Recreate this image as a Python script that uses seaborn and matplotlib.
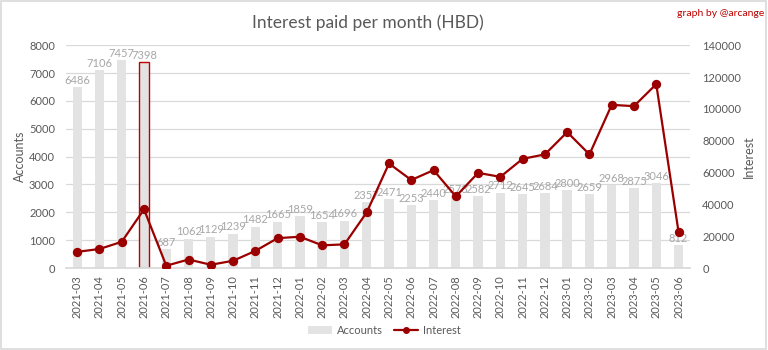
import matplotlib
matplotlib.use("Agg")
import matplotlib.pyplot as plt
from matplotlib.patches import Patch, Rectangle
from matplotlib.lines import Line2D
import seaborn as sns
import pandas as pd

months = ["2021-03", "2021-04", "2021-05", "2021-06", "2021-07", "2021-08", "2021-09",
          "2021-10", "2021-11", "2021-12", "2022-01", "2022-02", "2022-03", "2022-04",
          "2022-05", "2022-06", "2022-07", "2022-08", "2022-09", "2022-10", "2022-11",
          "2022-12", "2023-01", "2023-02", "2023-03", "2023-04", "2023-05", "2023-06"]
accounts = [6486, 7106, 7457, 7398, 687, 1062, 1129, 1239, 1482, 1665, 1859, 1654, 1696, 2357,
            2471, 2253, 2440, 2573, 2582, 2712, 2645, 2684, 2800, 2659, 2968, 2875, 3046, 812]
interest = [10200, 12000, 16500, 36900, 1500, 5400, 2100, 4600, 10800, 18800, 19700, 14300,
            14900, 35000, 65700, 55300, 61500, 45000, 59800, 57300, 68600, 71400, 85400, 71400,
            102500, 101700, 115500, 22800]
highlight = "2021-06"

df = pd.DataFrame({"month": months, "accounts": accounts, "interest": interest})

sns.set_theme(style="white")
plt.rcParams["font.family"] = ["Lato", "DejaVu Sans"]

BAR = "#e3e3e3"
LINE = "#9b0000"
TXT = "#595959"
LBL = "#a6a6a6"
GRID = "#d9d9d9"

fig = plt.figure(figsize=(7.68, 3.5), dpi=100)
ax = fig.add_axes([0.086, 0.234, 0.812, 0.637])

sns.barplot(data=df, x="month", y="accounts", color=BAR, width=0.42, ax=ax,
            saturation=1, edgecolor="none")
for patch, m in zip(ax.patches, months):
    if m == highlight:
        patch.set_edgecolor("#c00000")
        patch.set_linewidth(1.0)
ax.bar_label(ax.containers[0], labels=[str(v) for v in accounts], color=LBL,
             fontsize=8, padding=1)

ax.set_ylim(0, 8000)
ax.set_yticks(range(0, 8001, 1000))
ax.set_xlim(-0.5, len(months) - 0.5)
ax.yaxis.grid(True, color=GRID, linewidth=0.9)
ax.set_axisbelow(True)
for s in ["top", "left", "right"]:
    ax.spines[s].set_visible(False)
ax.spines["bottom"].set_color(GRID)
ax.tick_params(axis="y", colors=TXT, labelsize=8, length=0, pad=8)
ax.tick_params(axis="x", colors=TXT, labelsize=8, length=0, rotation=90, pad=5)
ax.set_xlabel("")
ax.set_ylabel("Accounts", color=TXT, fontsize=9, labelpad=2)

ax2 = ax.twinx()
sns.pointplot(data=df, x="month", y="interest", color=LINE, ax=ax2,
              markersize=5.5, linewidth=1.6)
ax2.set_ylim(0, 140000)
ax2.set_yticks(range(0, 140001, 20000))
ax2.set_xlim(-0.5, len(months) - 0.5)
for s in ["top", "left", "right", "bottom"]:
    ax2.spines[s].set_visible(False)
ax2.tick_params(axis="y", colors=TXT, labelsize=8, length=0, pad=9)
ax2.set_ylabel("Interest", color=TXT, fontsize=9, labelpad=1)

fig.text(0.479, 0.935, "Interest paid per month (HBD)", ha="center", va="center",
         fontsize=12.5, color=TXT)
fig.text(0.995, 0.96, "graph by @arcange", ha="right", va="center",
         fontsize=7.5, color="#c00000")

handles = [Patch(facecolor=BAR, edgecolor="none"),
           Line2D([0], [0], color=LINE, marker="o", markersize=4, linewidth=1.6)]
fig.legend(handles, ["Accounts", "Interest"], loc="center", bbox_to_anchor=(0.5, 0.055),
           ncol=2, frameon=False, fontsize=8, labelcolor=TXT, handlelength=2.2,
           columnspacing=1.0, handletextpad=0.4)

fig.patches.append(Rectangle((0.001, 0.002), 0.997, 0.995, transform=fig.transFigure,
                             fill=False, edgecolor=GRID, linewidth=1.2))

fig.savefig("out.png", dpi=100, facecolor="white")
